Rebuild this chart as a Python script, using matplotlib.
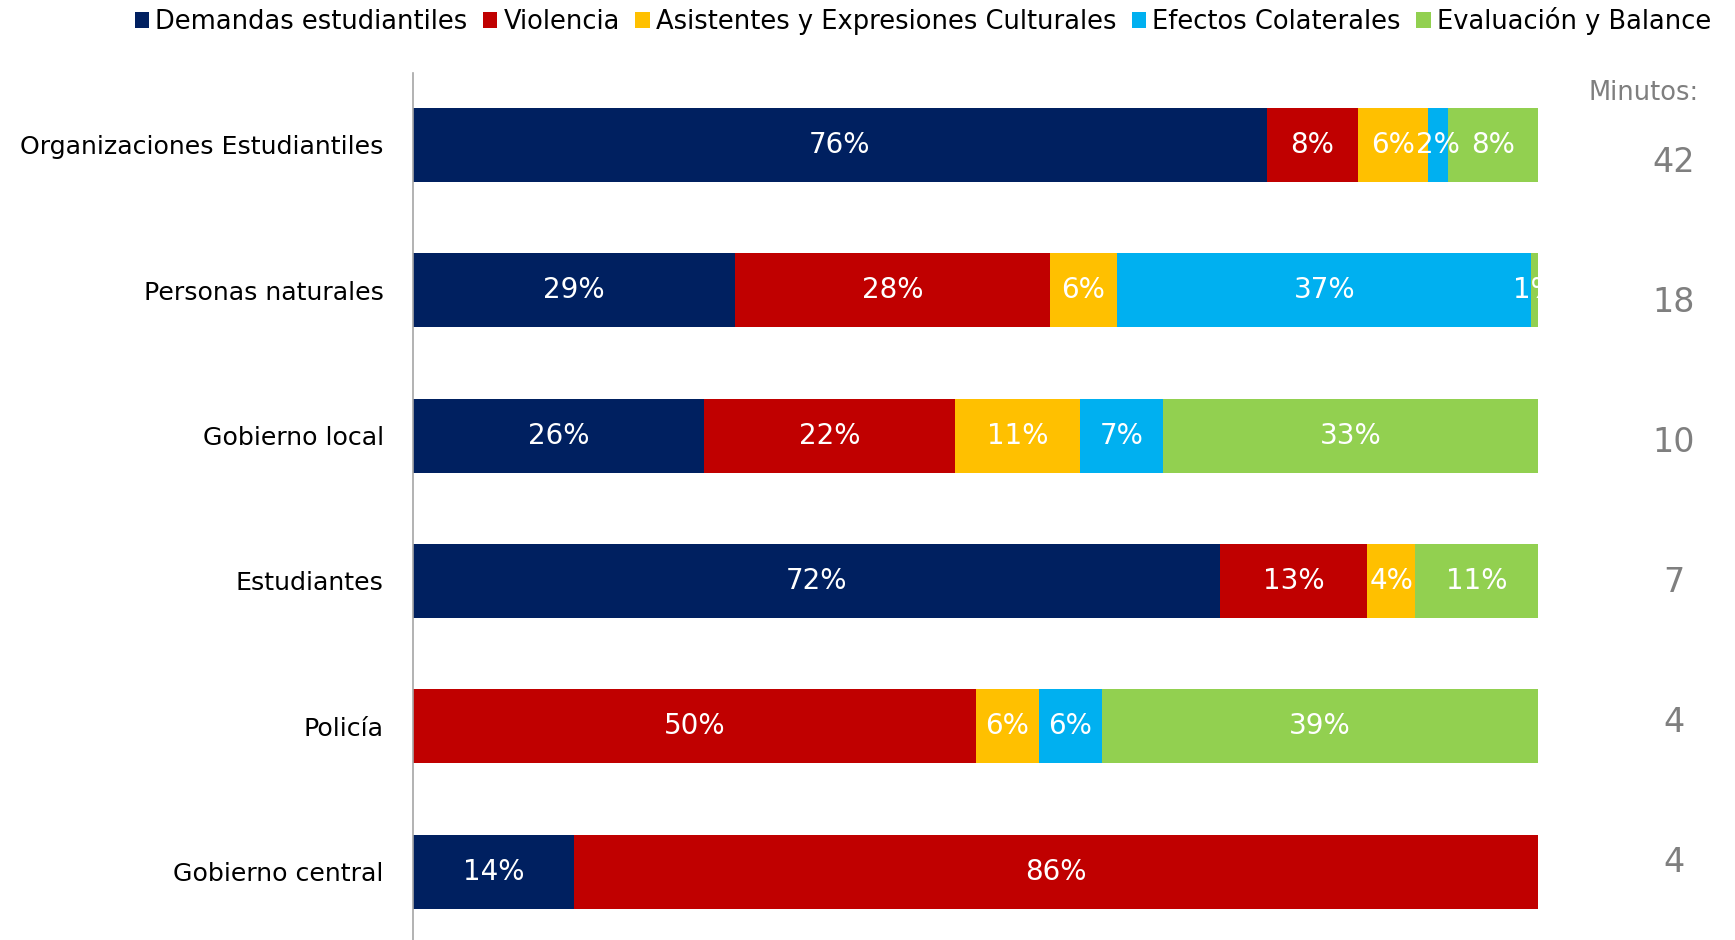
import matplotlib

matplotlib.use("Agg")

import matplotlib.pyplot as plt
import numpy as np

# data (share of minutes, %)
categories = [
    "Organizaciones Estudiantiles",
    "Personas naturales",
    "Gobierno local",
    "Estudiantes",
    "Policía",
    "Gobierno central",
]
series_names = [
    "Demandas estudiantiles",
    "Violencia",
    "Asistentes y Expresiones Culturales",
    "Efectos Colaterales",
    "Evaluación y Balance",
]
demandas = [75.9, 28.6, 25.9, 71.7, 0.0, 14.3]
violencia = [8.1, 28.0, 22.3, 13.1, 50.0, 85.7]
asistentes = [6.2, 6.0, 11.1, 4.3, 5.6, 0.0]
efectos = [1.8, 36.8, 7.4, 0.0, 5.6, 0.0]
evaluacion = [8.0, 0.6, 33.3, 10.9, 38.8, 0.0]
minutos = [42, 18, 10, 7, 4, 4]

colors = ["#002060", "#C00000", "#FFC000", "#00B0F0", "#92D050"]

fig = plt.figure(figsize=(17.35, 9.4), dpi=100)
ax = fig.add_axes([413 / 1735, 0.0, 1125 / 1735, 1 - 73 / 940])

y = np.arange(len(categories))
left = np.zeros(len(categories))
for name, vals, color in zip(
    series_names, [demandas, violencia, asistentes, efectos, evaluacion], colors
):
    vals = np.array(vals)
    ax.barh(y, vals, left=left, height=0.51, color=color, label=name)
    for yi, v, l in zip(y, vals, left):
        if v <= 0:
            continue
        ax.text(
            l + v / 2, yi, f"{v:.0f}%",
            ha="center", va="center", color="white", fontsize=20,
            clip_on=True,
        )
    left += vals

ax.set_xlim(0, 100)
ax.set_ylim(len(categories) - 0.53, -0.495)
ax.set_yticks(y)
ax.set_yticklabels(categories, fontsize=18.2)
ax.tick_params(axis="y", length=0, pad=21)
ax.set_xticks([])
for side in ["top", "right", "bottom"]:
    ax.spines[side].set_visible(False)
ax.spines["left"].set_color("#A6A6A6")
ax.spines["left"].set_linewidth(1.2)

# minutes column on the right
fig.text(1644 / 1735, 1 - 93 / 940, "Minutos:", ha="center", va="center",
         fontsize=18.5, color="#7F7F7F")
ys = np.linspace(1 - 163 / 940, 1 - 862 / 940, len(minutos))
for yy, m in zip(ys, minutos):
    fig.text(1674 / 1735, yy, str(m), ha="center", va="center",
             fontsize=24, color="#7F7F7F")

fig.legend(
    loc="center", bbox_to_anchor=(0.532, 1 - 21 / 940), ncol=5,
    frameon=False, fontsize=18.5, handlelength=0.55, handleheight=0.55,
    handletextpad=0.25, columnspacing=0.6, borderaxespad=0,
)

fig.savefig("out.png", dpi=100)
plt.close(fig)
